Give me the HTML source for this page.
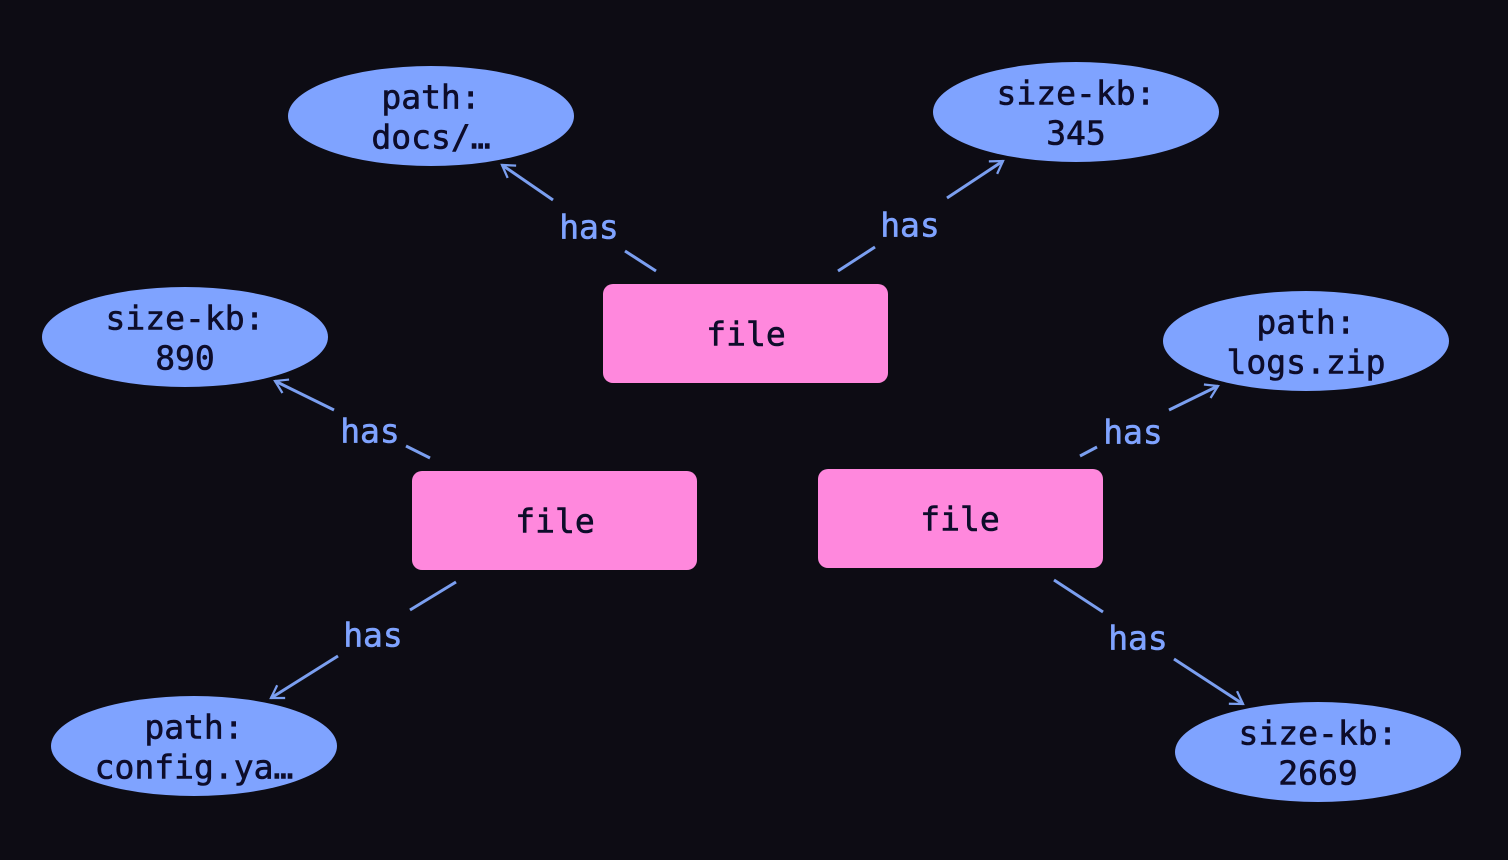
<!DOCTYPE html>
<html><head><meta charset="utf-8"><style>
html,body{margin:0;padding:0;background:#0d0c14;}
svg{display:block}
text{font-family:"DejaVu Sans Mono","Liberation Mono",monospace;font-size:33px;text-anchor:middle;dominant-baseline:central;stroke-width:0.6px}
.n{fill:#0d0c2a;stroke:#0d0c2a}
.l{fill:#7fa3ff;stroke:#7fa3ff}
line{stroke:#7b9ff0;stroke-width:3}
</style></head><body>
<svg width="1508" height="860" viewBox="0 0 1508 860" xmlns="http://www.w3.org/2000/svg">
<defs><marker id="a" viewBox="0 0 12 12" refX="11" refY="6" markerWidth="9" markerHeight="9" markerUnits="userSpaceOnUse" orient="auto" style="overflow:visible"><path d="M-16,-10 L0,0 L-16,10" transform="translate(11,6)" fill="none" stroke="#7b9ff0" stroke-width="3"/></marker></defs>
<rect width="1508" height="860" fill="#0d0c14"/>
<line x1="656" y1="271" x2="625" y2="251"/><line x1="553" y1="200" x2="502" y2="165" marker-end="url(#a)"/>
<line x1="838" y1="271" x2="875" y2="247"/><line x1="947" y1="198" x2="1003" y2="161" marker-end="url(#a)"/>
<line x1="430" y1="458" x2="406" y2="446"/><line x1="334" y1="410" x2="275" y2="381" marker-end="url(#a)"/>
<line x1="1080" y1="456" x2="1097" y2="447"/><line x1="1169" y1="410" x2="1218" y2="386" marker-end="url(#a)"/>
<line x1="456" y1="582" x2="410" y2="610"/><line x1="338" y1="656" x2="271" y2="698" marker-end="url(#a)"/>
<line x1="1054" y1="580" x2="1103" y2="612"/><line x1="1174" y1="659" x2="1243" y2="704" marker-end="url(#a)"/>
<text class="l" x="589" y="227">has</text>
<text class="l" x="910" y="225">has</text>
<text class="l" x="370" y="431">has</text>
<text class="l" x="1133" y="432">has</text>
<text class="l" x="373" y="635">has</text>
<text class="l" x="1138" y="638">has</text>
<rect x="603" y="284" width="285" height="99" rx="10" fill="#ff88dd"/><text class="n" x="746" y="334">file</text>
<rect x="412" y="471" width="285" height="99" rx="10" fill="#ff88dd"/><text class="n" x="555" y="521">file</text>
<rect x="818" y="469" width="285" height="99" rx="10" fill="#ff88dd"/><text class="n" x="960" y="519">file</text>
<g fill="#7fa3ff">
<ellipse cx="431" cy="116" rx="143" ry="50"/>
<ellipse cx="1076" cy="112" rx="143" ry="50"/>
<ellipse cx="185" cy="337" rx="143" ry="50"/>
<ellipse cx="1306" cy="341" rx="143" ry="50"/>
<ellipse cx="194" cy="746" rx="143" ry="50"/>
<ellipse cx="1318" cy="752" rx="143" ry="50"/>
</g>
<text class="n" x="431" y="97">path:</text><text class="n" x="431" y="137">docs/…</text>
<text class="n" x="1076" y="93">size-kb:</text><text class="n" x="1076" y="133">345</text>
<text class="n" x="185" y="318">size-kb:</text><text class="n" x="185" y="358">890</text>
<text class="n" x="1306" y="322">path:</text><text class="n" x="1306" y="362">logs.zip</text>
<text class="n" x="194" y="727">path:</text><text class="n" x="194" y="767">config.ya…</text>
<text class="n" x="1318" y="733">size-kb:</text><text class="n" x="1318" y="773">2669</text>
</svg>
</body></html>
